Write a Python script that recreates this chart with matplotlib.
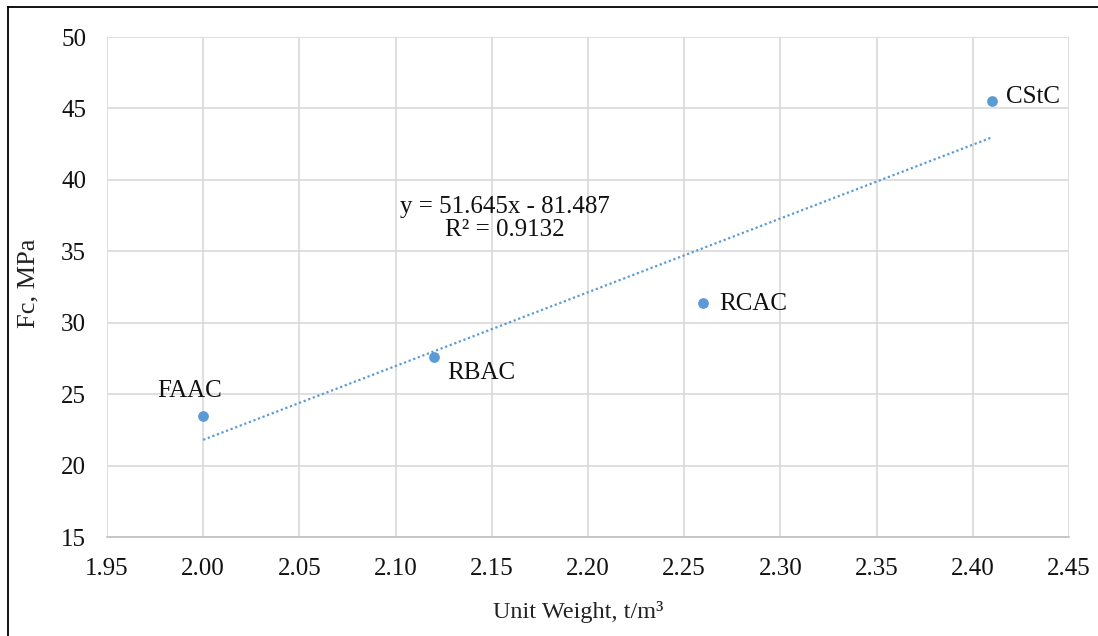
import numpy as np
import matplotlib.pyplot as plt
from matplotlib.lines import Line2D

plt.rcParams["font.family"] = ["Liberation Serif", "DejaVu Serif"]

# data
names = ["FAAC", "RBAC", "RCAC", "CStC"]
unit_weight = [2.00, 2.12, 2.26, 2.41]
fc = [23.5, 27.6, 31.4, 45.5]
slope = 51.645
intercept = -81.487
r2 = 0.9132
label_pos = [(1.993, 25.2), (2.127, 26.5), (2.268, 31.3), (2.417, 45.8)]
x_ticks = [1.95, 2.00, 2.05, 2.10, 2.15, 2.20, 2.25, 2.30, 2.35, 2.40, 2.45]
y_ticks = [15, 20, 25, 30, 35, 40, 45, 50]

blue = "#5b9bd5"


def main():
    fig = plt.figure(figsize=(10.98, 6.36), dpi=100)
    ax = fig.add_axes([107 / 1098, 1 - 537 / 636, (1069 - 107) / 1098, (537 - 37) / 636])

    ax.scatter(unit_weight, fc, s=45, color=blue, zorder=3)

    # linear trendline over the data range
    xt = np.array([min(unit_weight), max(unit_weight)])
    ax.plot(xt, slope * xt + intercept, color=blue, linestyle=(0, (1, 1.2)), linewidth=1.6, zorder=2)

    for name, (lx, ly) in zip(names, label_pos):
        ha = "center" if name == "FAAC" else "left"
        ax.text(lx, ly, name, fontsize=18, ha=ha, va="center", color="#111111")

    ax.text(2.157, 37.3, f"y = {slope}x - {abs(intercept)}\nR² = {r2}",
            fontsize=18, ha="center", va="center", linespacing=1.05, color="#111111")

    ax.set_xlim(1.95, 2.45)
    ax.set_ylim(15, 50)
    ax.set_xticks(x_ticks)
    ax.set_xticklabels([f"{v:.2f}" for v in x_ticks])
    ax.set_yticks(y_ticks)
    ax.tick_params(labelsize=18, length=0, colors="#111111")
    ax.tick_params(axis="x", pad=15)
    ax.tick_params(axis="y", pad=15)
    ax.grid(True, color="#d9d9d9", linewidth=1.2)
    ax.set_axisbelow(True)
    for side in ["top", "right", "left"]:
        ax.spines[side].set_visible(False)
    ax.spines["bottom"].set_color("#bfbfbf")
    ax.spines["bottom"].set_linewidth(1.2)

    fig.text(578 / 1098, 1 - 612 / 636, "Unit Weight, t/m³", fontsize=17.5,
             ha="center", va="center", color="#222222")
    fig.text(28 / 1098, 1 - 283 / 636, "Fc, MPa", fontsize=19, rotation=90,
             ha="center", va="center", color="#222222")

    # outer frame (only left and top edges are visible in the crop)
    fig.add_artist(Line2D([8 / 1098, 8 / 1098], [0, 1 - 7 / 636], color="black", linewidth=1.3))
    fig.add_artist(Line2D([8 / 1098, 1], [1 - 7 / 636, 1 - 7 / 636], color="black", linewidth=1.3))

    fig.savefig("out.png", dpi=100)


if __name__ == "__main__":
    main()
